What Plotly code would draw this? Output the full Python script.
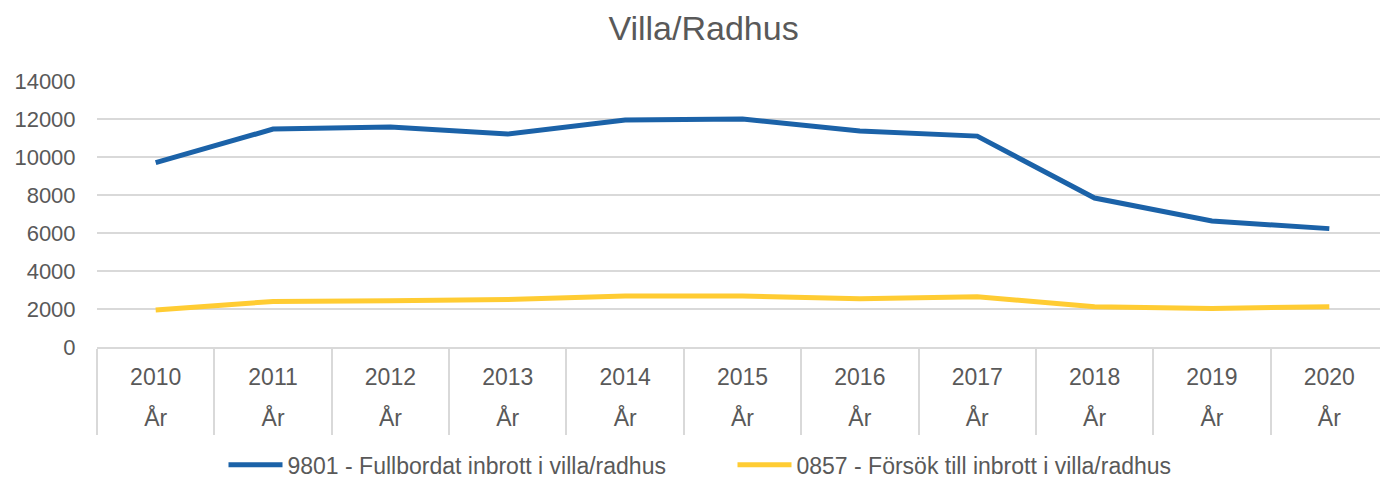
import plotly.graph_objects as go

years = ["2010", "2011", "2012", "2013", "2014", "2015", "2016", "2017", "2018", "2019", "2020"]
year_unit = ["År"] * len(years)
fullbordat = [9700, 11470, 11580, 11210, 11950, 12000, 11370, 11100, 7840, 6630, 6230]
forsok = [1950, 2400, 2430, 2500, 2680, 2680, 2540, 2650, 2120, 2030, 2120]
y_ticks = [0, 2000, 4000, 6000, 8000, 10000, 12000, 14000]

font_main = "Liberation Sans, Arial, sans-serif"
grey_text = "#595959"
grid = "#d9d9d9"

fig = go.Figure()
fig.add_trace(go.Scatter(x=years, y=fullbordat, mode="lines",
                         name="9801 - Fullbordat inbrott i villa/radhus",
                         line=dict(color="#1B62A8", width=5)))
fig.add_trace(go.Scatter(x=years, y=forsok, mode="lines",
                         name="0857 - Försök till inbrott i villa/radhus",
                         line=dict(color="#FFCC33", width=5)))
# invisible helpers so the overlay axes get the categories
fig.add_trace(go.Scatter(x=years, y=forsok, xaxis="x2", mode="lines", opacity=0,
                         showlegend=False, hoverinfo="skip"))
fig.add_trace(go.Scatter(x=years, y=forsok, xaxis="x3", mode="lines", opacity=0,
                         showlegend=False, hoverinfo="skip"))

axis_common = dict(type="category", categoryorder="array", categoryarray=years,
                   range=[-0.5, len(years) - 0.5], showgrid=False, zeroline=False)

# page body has an 8px margin, so the figure is a bit smaller than the window
fig.update_layout(
    width=1380, height=471,
    margin=dict(l=89, r=0, t=73, b=132, autoexpand=False),
    paper_bgcolor="white", plot_bgcolor="white",
    font=dict(family=font_main, color=grey_text, size=21),
    title=dict(text="Villa/Radhus", x=0.504, xref="container", xanchor="center",
               y=0.958, yanchor="middle", font=dict(size=34, color=grey_text)),
    xaxis=dict(**axis_common, showline=True, linecolor=grid, linewidth=1.5,
               ticks="outside", tickson="boundaries", ticklen=86,
               tickcolor=grid, tickwidth=1.5, showticklabels=False),
    xaxis2=dict(**axis_common, overlaying="x", anchor="y", side="bottom",
                showline=False, ticks="outside", ticklen=9,
                tickcolor="rgba(0,0,0,0)", tickfont=dict(size=23)),
    xaxis3=dict(**axis_common, overlaying="x", anchor="y", side="bottom",
                showline=False, ticks="outside", ticklen=50,
                tickcolor="rgba(0,0,0,0)", tickmode="array",
                tickvals=years, ticktext=year_unit, tickfont=dict(size=23)),
    yaxis=dict(range=[0, 14000], tickmode="array", tickvals=y_ticks,
               tickformat="d",
               showgrid=True, gridcolor=grid, gridwidth=1.5, zeroline=False,
               showline=False, ticks="outside", ticklen=16,
               tickcolor="rgba(0,0,0,0)", tickfont=dict(size=22)),
    legend=dict(orientation="h", xref="container", x=0.525, xanchor="center",
                yref="container", y=0.03, yanchor="middle",
                font=dict(size=23), itemwidth=54, entrywidth=440,
                bgcolor="rgba(0,0,0,0)"),
    showlegend=True,
)

fig.write_html("out.html")
